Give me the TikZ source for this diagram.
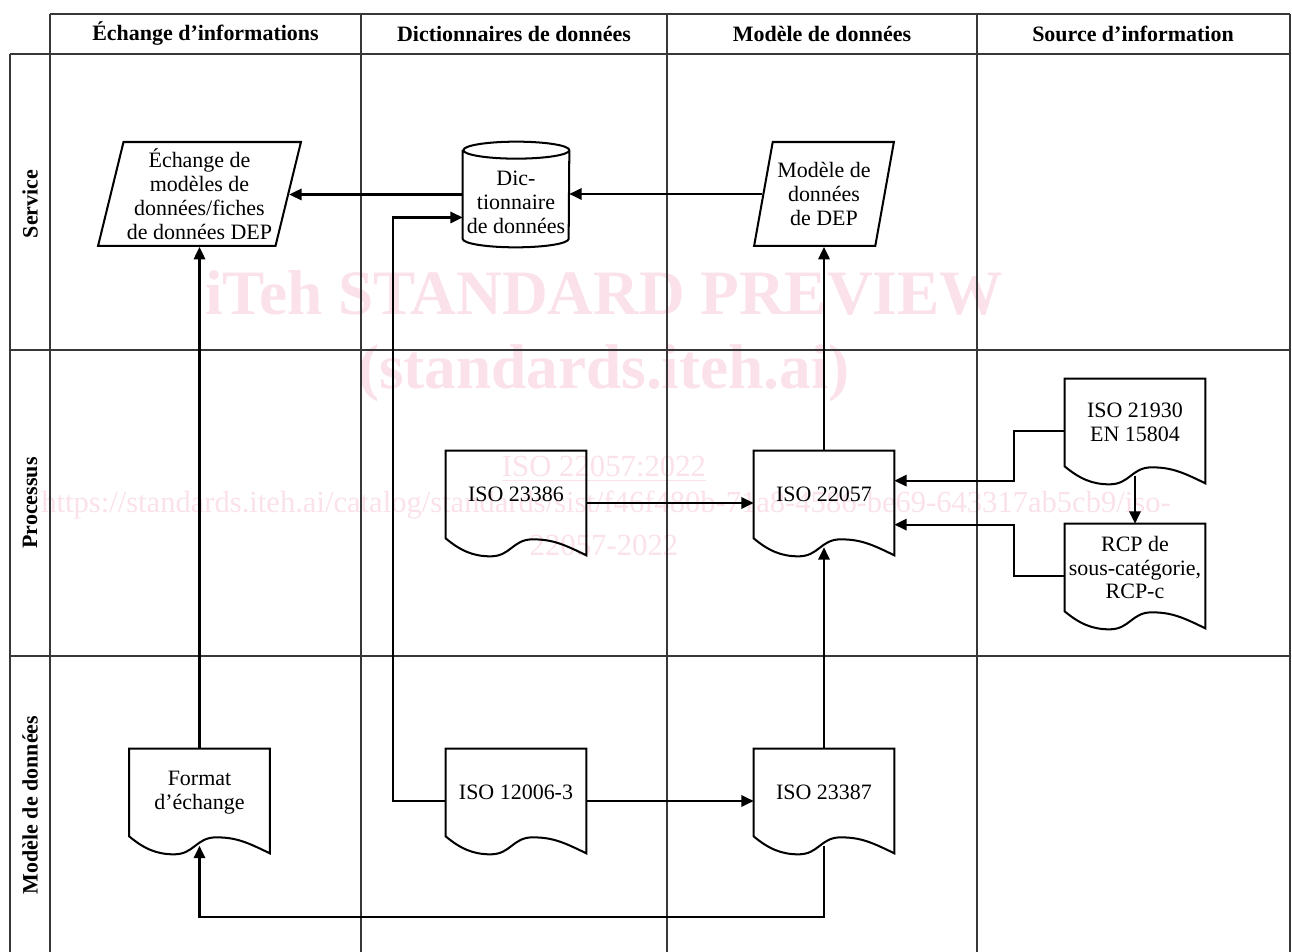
\documentclass[tikz,border=0pt]{standalone}
\usepackage{fontspec}
\setmainfont{Liberation Serif}
\usetikzlibrary{arrows.meta,shapes.geometric}

\definecolor{wmpink}{RGB}{250,225,234}
\definecolor{gridgray}{RGB}{55,55,55}

\newcommand{\diagbody}{\fontsize{12.5}{13.6}\selectfont}
\newcommand{\diaghead}{\fontsize{12.5}{15}\selectfont\bfseries}

% document symbol: outline with wavy bottom, plus side ports
\newcommand{\docshape}[1]{%
  \draw[shapeline] (#1.south west) -- (#1.north west) -- (#1.north east)
    -- ([yshift=-0.34cm]#1.south east)
    .. controls +(-0.45cm,0.22cm) and +(0.4cm,0cm) .. ([xshift=1.74cm,yshift=-0.02cm]#1.south west)
    .. controls +(-0.4cm,0cm) and +(0.4cm,0cm) .. ([xshift=0.9cm,yshift=-0.36cm]#1.south west)
    .. controls +(-0.35cm,0cm) and +(0.3cm,-0.25cm) .. (#1.south west) -- cycle;%
  \coordinate (#1-w) at ([yshift=-0.17cm]#1.west);%
  \coordinate (#1-e) at ([yshift=-0.17cm]#1.east);%
}

\tikzset{
  lane/.style={draw=gridgray, line width=0.6pt},
  shapeline/.style={draw=black, line width=1.15pt, line join=miter},
  flowline/.style={draw=black, line width=1.15pt, -{Triangle[length=7pt,width=6.5pt]}},
  doc/.style={rectangle, minimum width=2.8cm, minimum height=1.74cm, inner sep=0pt, align=center, font=\diagbody},
  para/.style={trapezium, trapezium left angle=75, trapezium right angle=105, trapezium stretches=true,
    shapeline, minimum height=2.08cm, inner sep=0pt, align=center, font=\diagbody},
  lanehead/.style={font=\diaghead},
  rowlab/.style={font=\diaghead, rotate=90},
  wm/.style={text=wmpink, anchor=base}
}

\begin{document}
\begin{tikzpicture}[x=0.02cm, y=-0.02cm]
  \useasboundingbox (0,0) rectangle (1292,952);

  % Watermark
  \node[wm, font=\bfseries\fontsize{36}{40}\selectfont] (wmA) at (604,315) {iTeh STANDARD PREVIEW};
  \node[wm, font=\bfseries\fontsize{36}{40}\selectfont] (wmB) at (604,389) {(standards.iteh.ai)};
  \node[wm, font=\fontsize{17.5}{20}\selectfont] (wmC) at (604,477) {\underline{ISO 22057:2022}};
  \node[wm, font=\fontsize{17.4}{20}\selectfont] (wmD) at (606,513) {https://standards.iteh.ai/catalog/standards/sist/f46f480b-71a8-4586-be69-643317ab5cb9/iso-};
  \node[wm, font=\fontsize{17.5}{20}\selectfont] (wmE) at (604,556) {22057-2022};

  % Lanes
  \draw[lane] (50,14) -- (1290,14);
  \draw[lane] (10,54) -- (1290,54);
  \draw[lane] (10,350) -- (1290,350);
  \draw[lane] (10,656) -- (1290,656);
  \draw[lane] (10,54) -- (10,952);
  \foreach \xl in {50,361,667,977,1290}
    \draw[lane] (\xl,14) -- (\xl,952);

  % Column headers
  \node[lanehead] (hdrExch) at (205.5,34) {Échange d’informations};
  \node[lanehead] (hdrDict) at (514,34) {Dictionnaires de données};
  \node[lanehead] (hdrModel) at (822,34) {Modèle de données};
  \node[lanehead] (hdrSource) at (1133,34) {Source d’information};

  % Row labels
  \node[rowlab] (rowService) at (30,204) {Service};
  \node[rowlab] (rowProc) at (30,503) {Processus};
  \node[rowlab] (rowModel) at (30,805) {Modèle de données};

  % Service row
  \node[para, minimum width=4.06cm] (exch) at (199.5,194) {Échange de\\modèles de\\données/fiches\\de données DEP};
  \node[inner sep=0pt, minimum width=2.12cm, minimum height=2.1cm] (dict) at (516,194.5)
    {\raisebox{-0.16cm}[\height][\depth]{\parbox{2.12cm}{\centering\diagbody Dic-\\tionnaire\\de données}}};
  \draw[shapeline] ([yshift=-0.17cm]dict.north west) -- ([yshift=0.17cm]dict.south west)
    arc[start angle=180, end angle=360, x radius=1.06cm, y radius=0.17cm]
    -- ([yshift=-0.17cm]dict.north east)
    arc[start angle=0, end angle=180, x radius=1.06cm, y radius=0.17cm]
    arc[start angle=180, end angle=360, x radius=1.06cm, y radius=0.17cm];
  \node[para, minimum width=2.8cm] (dep) at (824,194) {Modèle de\\données\\de DEP};

  % Processus row
  \node[doc] (iso23386) at (516,494.5) {ISO 23386};
  \node[doc] (iso22057) at (824,494.5) {ISO 22057};
  \node[doc] (iso21930) at (1135,422.5) {ISO 21930\\EN 15804};
  \node[doc] (rcp) at (1135,567.5) {RCP de\\sous-catégorie,\\RCP-c};

  % Modele de donnees row
  \node[doc] (fmt) at (199.5,792.5) {Format\\d’échange};
  \node[doc] (iso12006) at (516,792.5) {ISO 12006-3};
  \node[doc] (iso23387) at (824,792.5) {ISO 23387};

  \foreach \d in {iso23386,iso22057,iso21930,rcp,fmt,iso12006,iso23387}
    {\docshape{\d}}

  % Connectors
  \draw[flowline] (dict.west) -- (dict.west -| exch.east);
  \draw[flowline] (dep.west) -- (dep.west -| dict.east);
  \draw[flowline] (iso22057.north) -- (iso22057.north |- dep.south);
  \draw[flowline] (iso23386-e) -- (iso22057-w);
  \draw[flowline] (iso21930-w) -- ++(-51,0) |- ([yshift=-0.6cm]iso22057.north east);
  \draw[flowline] (rcp-w) -- ++(-51,0) |- ([yshift=-1.48cm]iso22057.north east);
  \draw[flowline] ([yshift=-0.2cm]iso21930.south) -- (rcp.north);
  \draw[flowline] (iso12006-w) -- ++(-53,0) |- ([yshift=-0.46cm]dict.west);
  \draw[flowline] (iso12006-e) -- (iso23387-w);
  \draw[flowline] (iso23387.north) -- ([yshift=-0.18cm]iso22057.south);
  \draw[flowline] ([yshift=-0.19cm]iso23387.south) -- ++(0,71) -| ([yshift=-0.19cm]fmt.south);
  \draw[flowline] (fmt.north) -- (fmt.north |- exch.south);
\end{tikzpicture}
\end{document}
